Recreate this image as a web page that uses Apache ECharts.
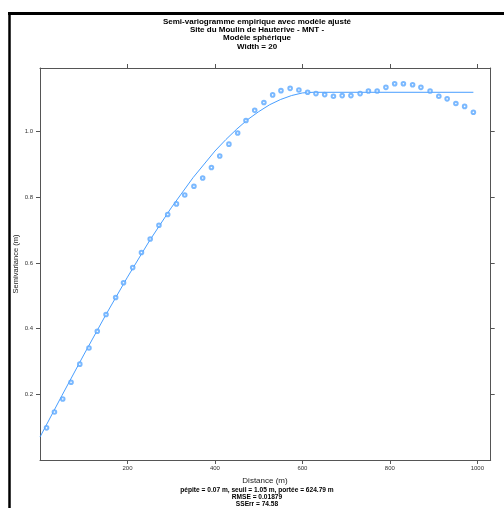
<!DOCTYPE html>
<html><head><meta charset="utf-8">
<script src="https://cdn.jsdelivr.net/npm/echarts@6/dist/echarts.min.js"></script>
<style>html,body{margin:0;padding:0;background:#fff}#c{width:504px;height:508px}</style>
</head><body><div id="c"></div>
<script>
const titleLines = ["Semi-variogramme empirique avec modèle ajusté","Site du Moulin de Hauterive - MNT -","Modèle sphérique","Width = 20"];
const footerLines = ["pépite = 0.07 m, seuil = 1.05 m, portée = 624.79 m","RMSE = 0.01879","SSErr = 74.58"];
const xName = "Distance (m)";
const yName = "Semivariance (m)";
const xTicks = [200,400,600,800,1000];
const yTicks = [0.2,0.4,0.6,0.8,1.0];
const distances = [15,33,52,71,91,112,131,151,173,191,212,232,252,272,292,312,331,352,372,392,411,432,452,471,491,512,532,551,572,592,612,631,651,671,691,711,732,751,771,791,811,831,852,871,892,912,931,951,971,991];
const gammaValues = [0.098,0.146,0.186,0.237,0.292,0.341,0.392,0.443,0.495,0.540,0.586,0.632,0.673,0.715,0.748,0.780,0.807,0.834,0.859,0.891,0.926,0.962,0.996,1.034,1.065,1.089,1.112,1.125,1.132,1.127,1.120,1.116,1.113,1.108,1.110,1.110,1.116,1.124,1.124,1.135,1.146,1.146,1.143,1.135,1.124,1.108,1.100,1.086,1.077,1.059];
const modelDist = [0,50,100,150,200,250,300,350,400,425,450,475,500,525,550,575,600,610,624.79,991];
const modelGamma = [0.070,0.196,0.320,0.441,0.557,0.667,0.768,0.860,0.941,0.976,1.008,1.037,1.061,1.082,1.098,1.110,1.118,1.119,1.120,1.120];

const FONT = '"Liberation Sans", Arial, sans-serif';
const axisCol = '#555';
const chart = echarts.init(document.getElementById('c'), null, {renderer:'canvas'});
const pts = distances.map((d,i)=>[d,gammaValues[i]]);
const model = modelDist.map((d,i)=>[d,modelGamma[i]]);

function xAx(pos, labels){
  return {type:'value', position:pos, min:0, max:1030.6, splitLine:{show:false},
    axisLine:{show:true, onZero:false, lineStyle:{color:axisCol, width:1}},
    axisTick:{show:true, inside:false, length:4, customValues:xTicks, lineStyle:{color:axisCol}},
    axisLabel:{show:labels, customValues:xTicks, margin:5, fontSize:6, color:'#333', fontFamily:FONT,
      formatter:v=>String(Math.round(v))}};
}
function yAx(pos, labels){
  return {type:'value', position:pos, min:0, max:1.194, splitLine:{show:false},
    axisLine:{show:true, onZero:false, lineStyle:{color:axisCol, width:1}},
    axisTick:{show:true, inside:false, length:4, customValues:yTicks, lineStyle:{color:axisCol}},
    axisLabel:{show:labels, customValues:yTicks, margin:7, fontSize:6, color:'#333', fontFamily:FONT,
      formatter:v=>v.toFixed(1)}};
}
const graphics = [
  {type:'line', shape:{x1:8, y1:13.5, x2:504, y2:13.5}, style:{stroke:'#000', lineWidth:3}},
  {type:'line', shape:{x1:9.5, y1:12, x2:9.5, y2:508}, style:{stroke:'#000', lineWidth:2.5}},
  {type:'text', x:265, y:481, style:{text:xName, font:'8px '+FONT, fill:'#222', textAlign:'center', textVerticalAlign:'middle'}},
  {type:'text', x:16, y:264, rotation:Math.PI/2, style:{text:yName, font:'7.5px '+FONT, fill:'#222', textAlign:'center', textVerticalAlign:'middle'}}
];
titleLines.forEach((t,i)=>graphics.push({type:'text', x:257, y:21.5+i*8.3,
  style:{text:t, font:'bold 8px '+FONT, fill:'#000', textAlign:'center', textVerticalAlign:'middle'}}));
footerLines.forEach((t,i)=>graphics.push({type:'text', x:257, y:490+i*7.2,
  style:{text:t, font:'bold 6.6px '+FONT, fill:'#000', textAlign:'center', textVerticalAlign:'middle'}}));

chart.setOption({
  animation:false,
  grid:{left:40, right:13.3, top:68, bottom:48, containLabel:false},
  xAxis:[xAx('bottom', true), xAx('top', false)],
  yAxis:[yAx('left', true), yAx('right', false)],
  graphic: graphics,
  series:[
    {type:'line', data:model, xAxisIndex:0, yAxisIndex:0, showSymbol:false, symbol:'none',
      lineStyle:{color:'#3393ff', width:0.9}, z:2},
    {type:'scatter', data:pts, xAxisIndex:0, yAxisIndex:0, symbol:'emptyCircle', symbolSize:3.6,
      itemStyle:{color:'#5aa8ff', borderWidth:0.7}, z:3}
  ]
});
</script></body></html>
